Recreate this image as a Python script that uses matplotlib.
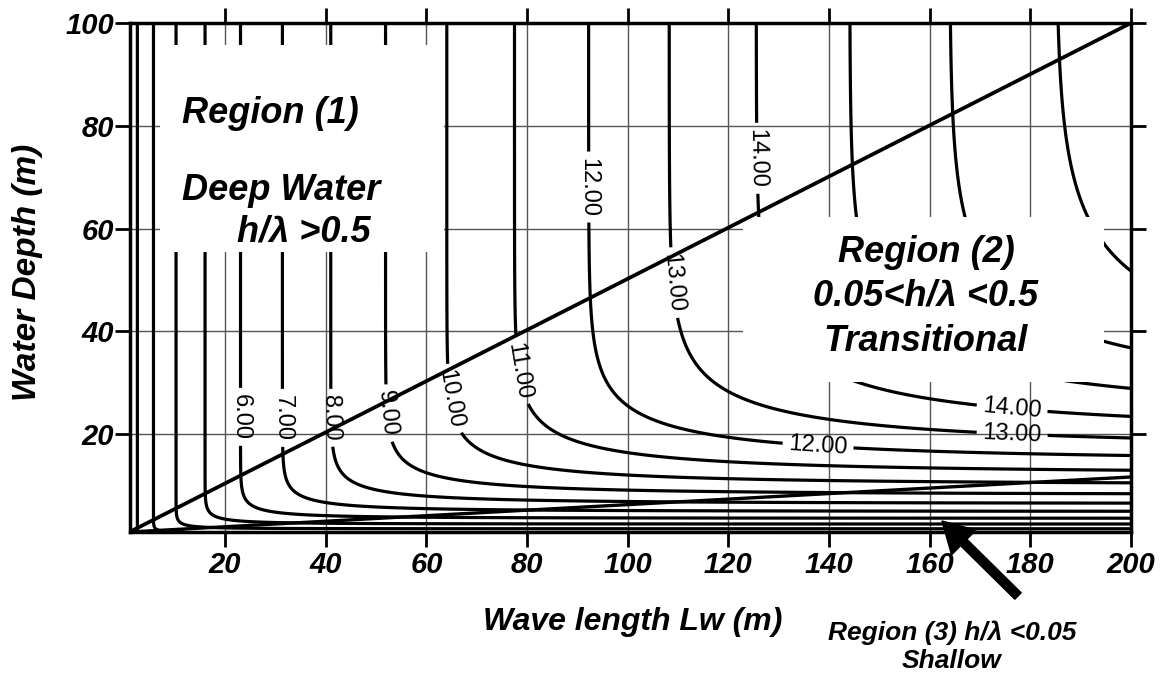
import numpy as np
import matplotlib
matplotlib.use("Agg")
import matplotlib.pyplot as plt
from matplotlib.patches import Rectangle

plt.rcParams['font.family'] = ['Liberation Sans', 'DejaVu Sans']

# ---------------- data ----------------
g = 9.81                                   # gravity (m/s^2)
wave_length_range = [1, 200]               # Lw axis (m)
depth_range = [1, 100]                     # h axis (m)
speed_levels = list(range(1, 18))          # contour levels of wave celerity (m/s)
label_positions = [(23.2, 23.4), (31.5, 23.2), (40.8, 23.2), (53.7, 24.2),
                   (66.0, 27.0), (80.0, 32.6), (92.9, 68.1), (110.4, 49.6),
                   (126.7, 73.7), (137.8, 17.5), (176.4, 20.3), (176.4, 25.3)]
x_ticks = [20, 40, 60, 80, 100, 120, 140, 160, 180, 200]
y_ticks = [20, 40, 60, 80, 100]
deep_line_L = [1, 200]      # h/lambda = 0.5 boundary
deep_line_h = [1, 100]
shallow_line_L = [1, 200]   # h/lambda = 0.05 boundary
shallow_line_h = [1, 11.7]

# ---------------- field (linear dispersion relation) ----------------
Lw = np.linspace(wave_length_range[0], wave_length_range[1], 900)
hh = np.linspace(depth_range[0], depth_range[1], 900)
LL, HH = np.meshgrid(Lw, hh)
C = np.sqrt(g * LL / (2 * np.pi) * np.tanh(2 * np.pi * HH / LL))

W, H = 1169, 675
fig = plt.figure(figsize=(W / 100, H / 100), dpi=100)
ax_l, ax_r, ax_t, ax_b = 129.5, 1131, 23, 532
ax = fig.add_axes([ax_l / W, (H - ax_b) / H, (ax_r - ax_l) / W, (ax_b - ax_t) / H])

ax.set_xlim(wave_length_range)
ax.set_ylim(depth_range)

ax.grid(True, color='#555555', lw=1.0, zorder=1)
ax.set_axisbelow(True)

cs = ax.contour(LL, HH, C, levels=speed_levels, colors='black', linewidths=2.3, zorder=2)
lbls = ax.clabel(cs, manual=label_positions, fmt='%.2f',
                 fontsize=17, inline=True, inline_spacing=6)

ax.plot(deep_line_L, deep_line_h, color='black', lw=2.7, zorder=6, solid_capstyle='butt')
ax.plot(shallow_line_L, shallow_line_h, color='black', lw=2.4, zorder=3, solid_capstyle='butt')

def afrac(px, py):
    return ((px - ax_l) / (ax_r - ax_l), (ax_b - py) / (ax_b - ax_t))

# white annotation boxes
for (x0, y0, x1, y1) in [(160, 45, 444, 252), (743, 217, 1104, 382)]:
    fx0, fy1 = afrac(x0, y0)
    fx1, fy0 = afrac(x1, y1)
    ax.add_patch(Rectangle((fx0, fy0), fx1 - fx0, fy1 - fy0, transform=ax.transAxes,
                           facecolor='white', edgecolor='none', zorder=4))

tk = dict(fontweight='bold', fontstyle='italic', color='black', zorder=7)
ax.text(*afrac(182, 123), 'Region (1)', fontsize=26, ha='left', va='baseline', transform=ax.transAxes, **tk)
ax.text(*afrac(182, 200), 'Deep Water', fontsize=26, ha='left', va='baseline', transform=ax.transAxes, **tk)
ax.text(*afrac(237, 241), 'h/λ >0.5', fontsize=26, ha='left', va='baseline', transform=ax.transAxes, **tk)

ax.text(*afrac(926, 262), 'Region (2)', fontsize=26, ha='center', va='baseline', transform=ax.transAxes, **tk)
ax.text(*afrac(926, 306), '0.05<h/λ <0.5', fontsize=26, ha='center', va='baseline', transform=ax.transAxes, **tk)
ax.text(*afrac(926, 351), 'Transitional', fontsize=26, ha='center', va='baseline', transform=ax.transAxes, **tk)

# ticks
ax.set_xticks(x_ticks)
ax.set_yticks(y_ticks)
ax.set_xticklabels([str(v) for v in x_ticks])
ax.set_yticklabels([str(v) for v in y_ticks])
ax.tick_params(direction='out', length=10.5, width=2, top=True, right=True,
               labeltop=False, labelright=False, labelsize=21)
ax.tick_params(axis='x', pad=3)
ax.tick_params(axis='y', pad=0.5)
for lab in ax.get_xticklabels() + ax.get_yticklabels():
    lab.set_fontweight('bold')
    lab.set_fontstyle('italic')
for sp in ax.spines.values():
    sp.set_linewidth(2.5)

# axis titles
fig.text(633 / W, 1 - 630 / H, 'Wave length Lw (m)', fontsize=23, ha='center', va='baseline',
         fontweight='bold', fontstyle='italic')
fig.text(28 / W, 1 - 272 / H, 'Water Depth (m)', fontsize=24, ha='center', va='center',
         rotation=90, fontweight='bold', fontstyle='italic')

# region 3 annotation
ax.annotate('', xy=(942, H - 521), xycoords='figure pixels',
            xytext=(1018, H - 596), textcoords='figure pixels',
            arrowprops=dict(facecolor='black', edgecolor='black', width=6.5,
                            headwidth=25, headlength=22, shrink=0))
fig.text(952 / W, 1 - 640 / H, 'Region (3) h/λ <0.05', fontsize=19, ha='center', va='baseline',
         fontweight='bold', fontstyle='italic')
fig.text(952 / W, 1 - 668 / H, 'Shallow', fontsize=19, ha='center', va='baseline',
         fontweight='bold', fontstyle='italic')

fig.savefig('out.png', dpi=100)
